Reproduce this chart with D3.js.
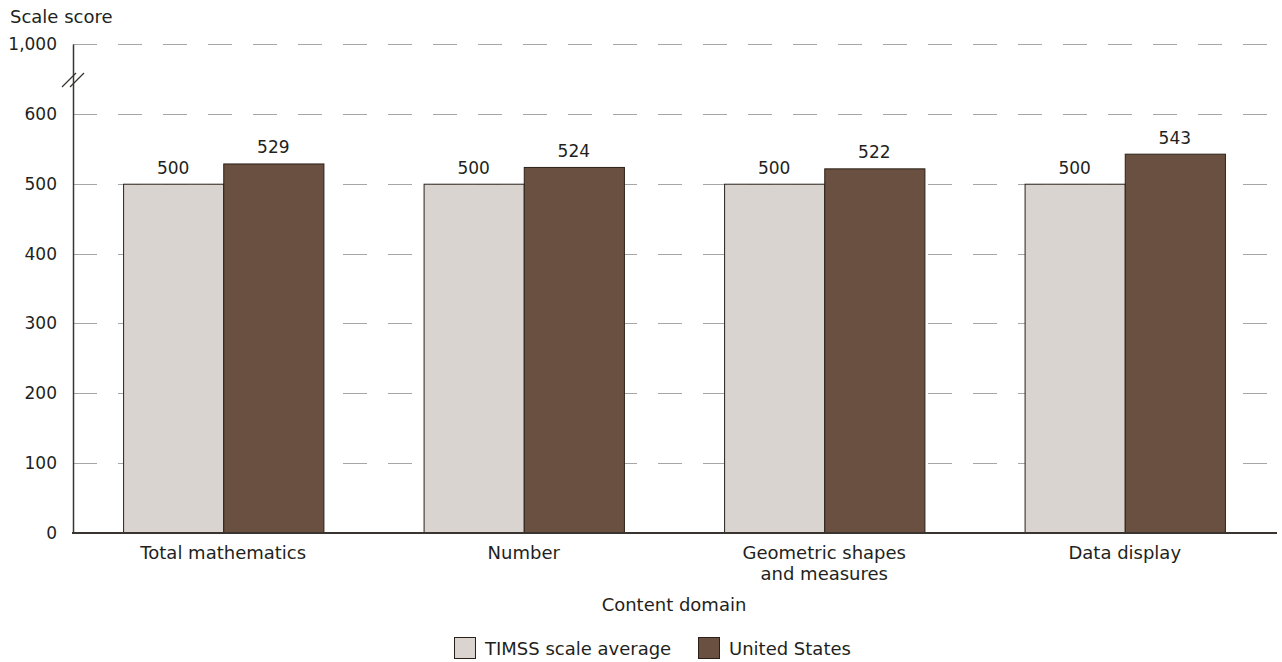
<!DOCTYPE html>
<html>
<head>
<meta charset="utf-8">
<script src="https://cdn.jsdelivr.net/npm/d3@7"></script>
<style>
  html, body { margin: 0; padding: 0; background: #fff; }
  text { font-family: "DejaVu Sans", sans-serif; fill: #231f20; }
</style>
</head>
<body>
<svg id="chart" width="1282" height="662"></svg>
<script>
const categories = [["Total mathematics"], ["Number"], ["Geometric shapes", "and measures"], ["Data display"]];
const categoryKeys = ["Total mathematics", "Number", "Geometric shapes and measures", "Data display"];
const seriesNames = ["TIMSS scale average", "United States"];
const timssValues = [500, 500, 500, 500];
const usValues = [529, 524, 522, 543];
const tickValues = [0, 100, 200, 300, 400, 500, 600, 700];
const tickLabels = ["0", "100", "200", "300", "400", "500", "600", "1,000"];
const colors = ["#d9d4d0", "#6a5040"];

(function () {
const svg = d3.select("#chart");
const mLeft = 73, mRight = 1275, mTop = 44, mBottom = 533;

const y = d3.scaleLinear().domain([0, 700]).range([mBottom, mTop]);
const x0 = d3.scaleBand().domain(categoryKeys).range([mLeft, mRight]).padding(0);
const x1 = d3.scaleBand().domain(seriesNames).range([0, x0.bandwidth()]).paddingInner(0).paddingOuter(0.5);

// gridlines
svg.append("g").selectAll("line").data(tickValues.filter(d => d > 0)).join("line")
  .attr("x1", mLeft).attr("x2", mRight)
  .attr("y1", d => Math.round(y(d)) + 0.5).attr("y2", d => Math.round(y(d)) + 0.5)
  .attr("stroke", "#a6a6a6").attr("stroke-width", 1)
  .attr("stroke-dasharray", "24,21");

// bars
const data = categoryKeys.map((c, i) => ({ c, vals: [timssValues[i], usValues[i]] }));
const groups = svg.append("g").selectAll("g").data(data).join("g")
  .attr("transform", d => `translate(${x0(d.c)},0)`);
groups.selectAll("rect").data(d => d.vals.map((v, j) => ({ s: seriesNames[j], v, j }))).join("rect")
  .attr("x", d => x1(d.s) + 0.5)
  .attr("y", d => y(d.v) + 0.5)
  .attr("width", x1.bandwidth())
  .attr("height", d => y(0) - y(d.v))
  .attr("fill", d => colors[d.j])
  .attr("stroke", "#2b2118").attr("stroke-width", 1);
groups.selectAll("text.val").data(d => d.vals.map((v, j) => ({ s: seriesNames[j], v, j }))).join("text")
  .attr("class", "val")
  .attr("x", d => x1(d.s) + x1.bandwidth() / 2)
  .attr("y", d => y(d.v) - 10)
  .attr("text-anchor", "middle")
  .style("font-size", "17px")
  .text(d => d.v);

// y axis
const yAxis = d3.axisLeft(y).tickValues(tickValues).tickSize(0).tickPadding(16)
  .tickFormat((d, i) => tickLabels[i]);
const gy = svg.append("g").attr("transform", `translate(${mLeft},0)`).call(yAxis);
gy.select(".domain").attr("stroke", "#3a3430").attr("stroke-width", 1.5);
gy.selectAll("text").style("font-size", "17px").attr("fill", "#231f20").style("font-family", "DejaVu Sans");

// axis break marks
const by = (y(600) + y(700)) / 2 + 1;
[-4, 4].forEach(dx => {
  svg.append("line")
    .attr("x1", mLeft + dx - 7).attr("y1", by + 7)
    .attr("x2", mLeft + dx + 7).attr("y2", by - 7)
    .attr("stroke", "#3a3430").attr("stroke-width", 1.3);
});

// x axis
svg.append("line").attr("x1", mLeft - 1).attr("x2", mRight + 2)
  .attr("y1", mBottom).attr("y2", mBottom)
  .attr("stroke", "#3a3430").attr("stroke-width", 2);

// category labels
const cl = svg.append("g").selectAll("text").data(categoryKeys).join("text")
  .attr("x", d => x0(d) + x0.bandwidth() / 2)
  .attr("y", 559)
  .attr("text-anchor", "middle")
  .style("font-size", "18px");
cl.each(function(d, i) {
  const t = d3.select(this);
  categories[i].forEach((line, k) => {
    t.append("tspan").attr("x", x0(d) + x0.bandwidth() / 2).attr("dy", k === 0 ? 0 : 21).text(line);
  });
});

// axis titles
svg.append("text").attr("x", 10).attr("y", 23).style("font-size", "18px").text("Scale score");
svg.append("text").attr("x", (mLeft + mRight) / 2).attr("y", 611).attr("text-anchor", "middle")
  .style("font-size", "18px").text("Content domain");

// legend
const legendX = [454, 698];
const lg = svg.append("g").selectAll("g").data(seriesNames).join("g")
  .attr("transform", (d, i) => `translate(${legendX[i]},637)`);
lg.append("rect").attr("x", 0.5).attr("y", 0.5).attr("width", 21).attr("height", 21)
  .attr("fill", (d, i) => colors[i]).attr("stroke", "#2b2118").attr("stroke-width", 1);
lg.append("text").attr("x", 31).attr("y", 18).style("font-size", "18px").text(d => d);
})();
</script>
</body>
</html>
